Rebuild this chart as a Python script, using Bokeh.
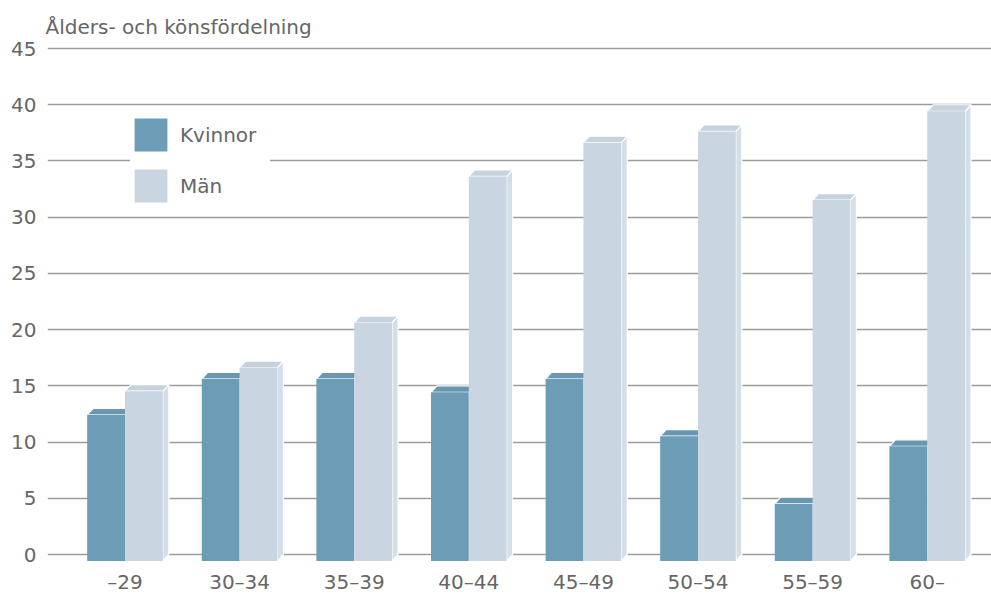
from bokeh.plotting import figure
from bokeh.models import FixedTicker, Range1d, Legend, LegendItem, ColumnDataSource
from bokeh.core.properties import value
from bokeh.embed import file_html
from bokeh.resources import INLINE

# ---- data ----
categories = ["–29", "30–34", "35–39", "40–44", "45–49", "50–54", "55–59", "60–"]
kvinnor = [13.0, 16.2, 16.2, 15.0, 16.2, 11.1, 5.1, 10.2]
man = [15.1, 17.2, 21.2, 34.2, 37.2, 38.2, 32.1, 40.0]
y_ticks = [0, 5, 10, 15, 20, 25, 30, 35, 40, 45]
title_text = "Ålders- och könsfördelning"
series_names = ["Kvinnor", "Män"]

# ---- style ----
FONT = "DejaVu Sans"
TXT = "#666666"
GRID = "#9c9c9c"
K_FRONT, K_TOP, K_SIDE = "#6d9cb6", "#6a97b0", "#7ea8bf"
M_FRONT, M_TOP, M_SIDE = "#c9d5e1", "#c6d2de", "#d4dee8"
BAR_W = 0.33      # bar width in category units
DX = 0.0524       # depth offset (x, data units)
DY = 0.578        # depth offset (y, data units)
LABEL_Y = -2.45   # row for category labels (data units)

p = figure(width=991, height=594, output_backend="svg", toolbar_location=None,
           x_range=Range1d(-0.6763, 7.561), y_range=Range1d(-3.557, 45.534),
           x_axis_location=None,
           min_border_left=47, min_border_right=0, min_border_top=42, min_border_bottom=0)
p.outline_line_color = None
p.background_fill_color = "white"
p.border_fill_color = "white"

p.title.text = title_text
p.title.text_font = FONT
p.title.text_font_size = "20px"
p.title.text_font_style = "normal"
p.title.text_color = TXT
p.title.align = "left"
p.title.offset = -2
p.title.standoff = 7

# y axis
p.yaxis.ticker = FixedTicker(ticks=y_ticks)
p.yaxis.axis_line_color = None
p.yaxis.major_tick_line_color = None
p.yaxis.minor_tick_line_color = None
p.yaxis.major_label_text_font = FONT
p.yaxis.major_label_text_font_size = "20px"
p.yaxis.major_label_text_color = TXT
p.yaxis.major_label_standoff = 5

p.xgrid.grid_line_color = None
p.ygrid.ticker = FixedTicker(ticks=y_ticks)
p.ygrid.grid_line_color = GRID
p.ygrid.grid_line_width = 1.6

# category labels
p.text(x=list(range(len(categories))), y=[LABEL_Y] * len(categories), text=categories,
       text_font=value(FONT), text_font_size="20px", text_color=TXT,
       text_align="center", text_baseline="middle")


def faces(values, x_off):
    x0 = [i + x_off for i in range(len(values))]
    x1 = [x + BAR_W for x in x0]
    front = dict(left=x0, right=x1, bottom=[-DY] * len(values), top=[v - DY for v in values])
    top_xs = [[a, b, b + DX, a + DX] for a, b in zip(x0, x1)]
    top_ys = [[v - DY, v - DY, v, v] for v in values]
    side_xs = [[b, b + DX, b + DX, b] for b in x1]
    side_ys = [[-DY, 0, v, v - DY] for v in values]
    return front, dict(xs=top_xs, ys=top_ys), dict(xs=side_xs, ys=side_ys)


renderers = []
for vals, off, cf, ct, cs in ((kvinnor, -BAR_W, K_FRONT, K_TOP, K_SIDE),
                              (man, 0.0, M_FRONT, M_TOP, M_SIDE)):
    fr, tp, sd = faces(vals, off)
    p.patches("xs", "ys", source=ColumnDataSource(sd), fill_color=cs,
              line_color="white", line_width=1.2)
    p.patches("xs", "ys", source=ColumnDataSource(tp), fill_color=ct,
              line_color="white", line_width=1.2)
    r = p.quad(left="left", right="right", bottom="bottom", top="top",
               source=ColumnDataSource(fr), fill_color=cf, line_color=None)
    renderers.append(r)

legend = Legend(items=[LegendItem(label=n, renderers=[r]) for n, r in zip(series_names, renderers)],
                location=(83, 388), orientation="vertical",
                glyph_width=41, glyph_height=41, spacing=10, padding=14, margin=0,
                label_standoff=9, label_width=90, label_text_font=FONT, label_text_font_size="20px",
                label_text_color=TXT, border_line_color=None,
                background_fill_color="white", background_fill_alpha=1.0)
p.add_layout(legend, "center")

open("out.html", "w").write(file_html(p, INLINE))
